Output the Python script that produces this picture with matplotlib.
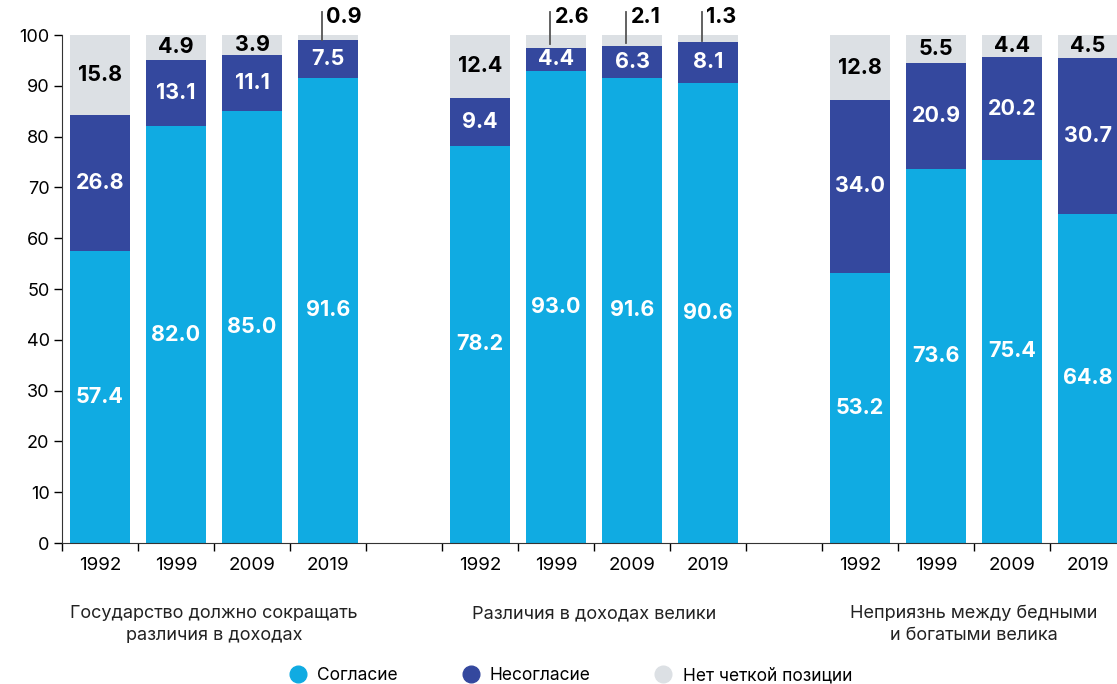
import matplotlib
matplotlib.use("Agg")
import matplotlib.pyplot as plt
from matplotlib.lines import Line2D

plt.rcParams['font.family'] = ['Inter', 'DejaVu Sans']

years = ["1992", "1999", "2009", "2019"]
groups = ["Государство должно сокращать\nразличия в доходах",
          "Различия в доходах велики",
          "Неприязнь между бедными\nи богатыми велика"]
agree = [[57.4, 82.0, 85.0, 91.6],
         [78.2, 93.0, 91.6, 90.6],
         [53.2, 73.6, 75.4, 64.8]]
disagree = [[26.8, 13.1, 11.1, 7.5],
            [9.4, 4.4, 6.3, 8.1],
            [34.0, 20.9, 20.2, 30.7]]
neutral = [[15.8, 4.9, 3.9, 0.9],
           [12.4, 2.6, 2.1, 1.3],
           [12.8, 5.5, 4.4, 4.5]]
legend_labels = ["Согласие", "Несогласие", "Нет четкой позиции"]

c_agree = "#10abe2"
c_dis = "#34489e"
c_neu = "#dce0e4"

W, H = 1117, 684
fig = plt.figure(figsize=(W / 100, H / 100), dpi=100)
ax = fig.add_axes([62 / W, 141 / H, 1064 / W, 508 / H])

bw = 0.8
for g in range(3):
    for i in range(4):
        x = g * 5 + i
        a, d, n = agree[g][i], disagree[g][i], neutral[g][i]
        ax.bar(x, a, bw, color=c_agree)
        ax.bar(x, d, bw, bottom=a, color=c_dis)
        ax.bar(x, n, bw, bottom=a + d, color=c_neu)
        kw = dict(ha="center", va="center", fontsize=15.5, fontweight="bold")
        ax.text(x, a / 2, f"{a:.1f}", color="white", **kw)
        ax.text(x, a + d / 2, f"{d:.1f}", color="white", **kw)
        if n >= 3:
            ax.text(x, a + d + n / 2, f"{n:.1f}", color="black", **kw)
        else:
            lx = x - 0.08
            ax.plot([lx, lx], [100 - n / 2 - 0.5, 104.5], color="#555555",
                    lw=1.3, clip_on=False)
            ax.text(lx + 0.06, 103.5, f"{n:.1f}", color="black", ha="left",
                    va="center", fontsize=15.5, fontweight="bold")

ax.set_xlim(-0.5, 13.5)
ax.set_ylim(0, 100)
ax.set_yticks(range(0, 101, 10))
ax.tick_params(axis="y", labelsize=13, length=6, width=1, pad=3)

# tick marks at slot boundaries, year labels at slot centres
ax.set_xticks([k - 0.5 for k in range(15)])
ax.set_xticklabels([])
ax.tick_params(axis="x", which="major", length=6, width=1)
centers = [g * 5 + i for g in range(3) for i in range(4)]
ax.set_xticks(centers, minor=True)
ax.set_xticklabels(years * 3, minor=True)
ax.tick_params(axis="x", which="minor", length=0, labelsize=13.5, pad=10)

for g, name in enumerate(groups):
    ax.text(g * 5 + 1.5, -12.3, name, ha="center", va="top", fontsize=13,
            linespacing=1.35, color="#222222")

for s in ["top", "right"]:
    ax.spines[s].set_visible(False)
ax.spines["left"].set_color("#333333")
ax.spines["bottom"].set_color("#333333")

handles = [Line2D([], [], marker="o", ls="", markersize=12, color=c)
           for c in (c_agree, c_dis, c_neu)]
fig.legend(handles, legend_labels, loc="center", bbox_to_anchor=(0.51, 1 - 676 / H),
           ncol=3, frameon=False, fontsize=12.5, handletextpad=0.5,
           columnspacing=3.6, handlelength=1.2)

fig.savefig("out.png", dpi=100)
